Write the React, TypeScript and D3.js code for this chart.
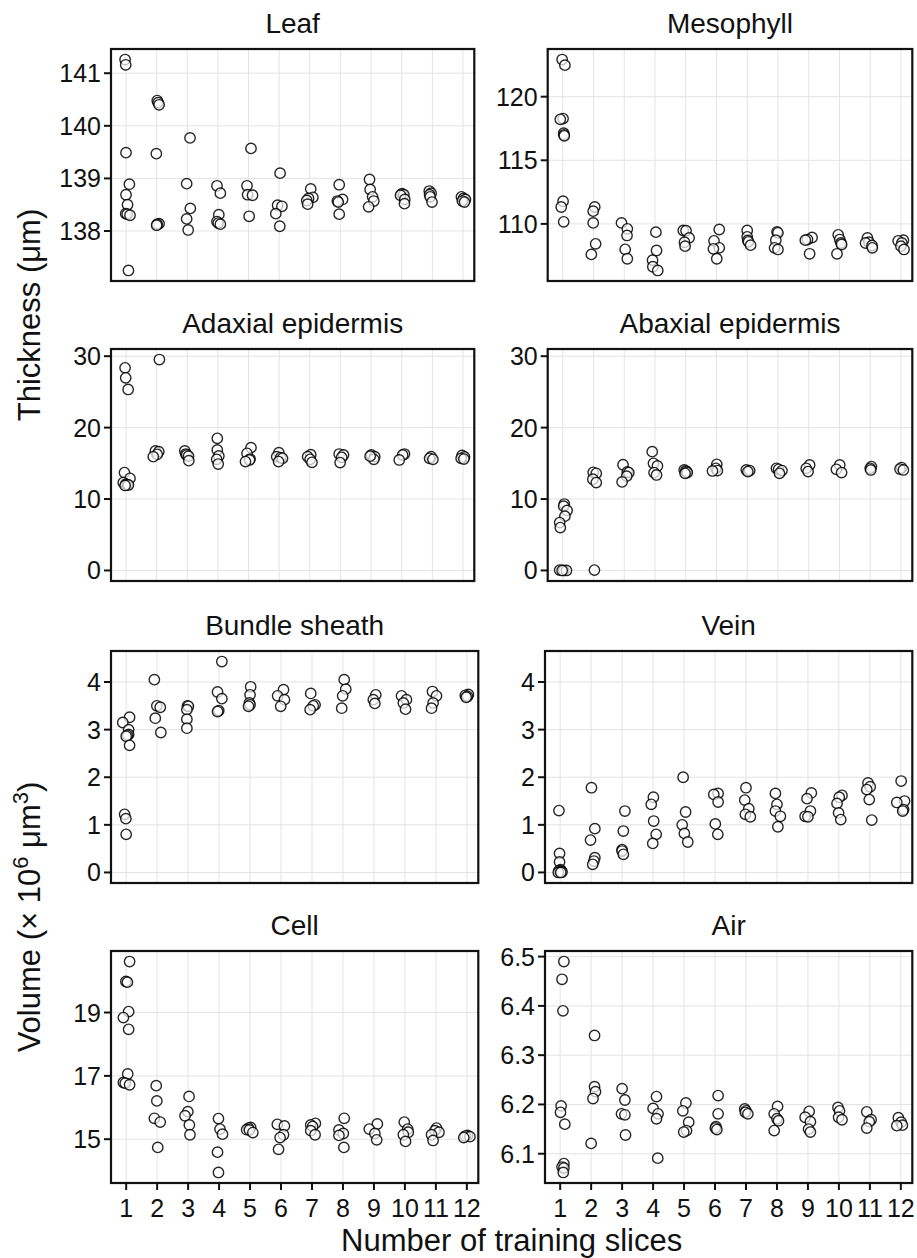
import React from "react";
import * as d3 from "d3";

// ---------- data: per column (training slices 1..12), [value, x-jitter] ----------
const sliceCounts = [1, 2, 3, 4, 5, 6, 7, 8, 9, 10, 11, 12];

const leafThickness = [
  [[141.26,-0.03],[141.16,-0.01],[139.49,0],[138.89,0.11],[138.69,0],[138.5,0.05],[138.33,-0.01],[138.32,0.04],[138.3,0.13],[137.25,0.08]],
  [[140.48,0.02],[140.44,0.05],[140.4,0.08],[139.47,-0.01],[138.14,0.08],[138.13,0.02],[138.11,0]],
  [[139.77,0.09],[138.9,-0.02],[138.43,0.1],[138.23,-0.02],[138.02,0.03]],
  [[138.86,-0.03],[138.72,0.08],[138.31,0.03],[138.18,-0.03],[138.15,0.01],[138.13,0.08]],
  [[139.57,0.08],[138.86,-0.05],[138.69,-0.03],[138.68,0.13],[138.28,0.02]],
  [[139.1,0.03],[138.49,-0.05],[138.47,0.09],[138.33,-0.11],[138.09,0.02]],
  [[138.8,0.03],[138.64,0.1],[138.62,-0.04],[138.58,-0.1],[138.51,-0.07]],
  [[138.88,-0.04],[138.6,0.07],[138.57,-0.1],[138.55,-0.07],[138.32,-0.04]],
  [[138.98,-0.05],[138.79,-0.03],[138.65,0.05],[138.57,0.09],[138.46,-0.08]],
  [[138.71,0.01],[138.69,0.07],[138.68,-0.04],[138.6,0.1],[138.52,0.09]],
  [[138.76,-0.1],[138.72,-0.04],[138.69,-0.09],[138.65,-0.07],[138.55,-0.01]],
  [[138.65,-0.05],[138.62,0.02],[138.6,0.08],[138.57,-0.02],[138.55,0.05]],
];

const mesophyllThickness = [
  [[122.92,-0.02],[122.48,0.07],[118.28,0.01],[118.22,-0.08],[117.13,0.03],[117.0,0.04],[116.92,0.05],[111.78,0.01],[111.33,-0.05],[110.16,0.03]],
  [[111.33,0.04],[111.0,-0.01],[110.08,-0.01],[108.43,0.07],[107.6,-0.07]],
  [[110.08,-0.09],[109.61,0.1],[109.09,0.09],[108.0,0.03],[107.26,0.1]],
  [[109.35,0.03],[107.91,0.05],[107.15,-0.08],[106.63,-0.07],[106.34,0.09]],
  [[109.48,-0.08],[109.46,0.01],[108.9,0.11],[108.56,-0.04],[108.25,-0.02]],
  [[109.56,0.09],[108.67,-0.08],[108.12,0.09],[108.04,-0.1],[107.26,0.01]],
  [[109.48,0],[108.98,0],[108.7,0.02],[108.59,0.04],[108.33,0.11]],
  [[109.37,-0.03],[109.3,0],[108.72,-0.07],[108.12,-0.11],[107.99,0]],
  [[108.93,0.11],[108.77,-0.04],[108.72,-0.11],[107.65,0.03]],
  [[109.14,-0.04],[108.77,0.01],[108.5,0.05],[108.38,0.07],[107.65,-0.08]],
  [[108.9,-0.09],[108.56,-0.04],[108.5,-0.15],[108.3,0.06],[108.12,0.07]],
  [[108.72,0.08],[108.67,-0.09],[108.5,0.03],[108.25,0],[107.99,0.1]],
];

const adaxialThickness = [
  [[28.37,-0.03],[26.97,-0.01],[25.34,0.07],[13.7,-0.05],[12.9,0.13],[12.3,-0.09],[12.1,0],[12.0,0.04],[11.97,0.08],[11.9,-0.03]],
  [[29.53,0.09],[16.73,-0.04],[16.63,0.07],[16.26,0.02],[15.93,-0.11]],
  [[16.73,-0.08],[16.3,-0.05],[16.17,-0.02],[16.0,0.04],[15.37,0.05]],
  [[18.5,-0.02],[16.87,-0.02],[16.03,0.03],[15.56,-0.04],[14.9,0.01]],
  [[17.19,0.08],[16.4,-0.05],[15.6,0.05],[15.47,0.03],[15.24,-0.1]],
  [[16.49,-0.01],[15.93,-0.08],[15.8,0.05],[15.7,0.11],[15.24,-0.02]],
  [[16.21,0.03],[15.93,-0.07],[15.56,0.01],[15.14,0.07]],
  [[16.3,-0.04],[16.17,0.1],[15.84,0.04],[15.1,-0.01]],
  [[16.17,0.01],[15.93,0.12],[15.56,0.09],[16.0,-0.03]],
  [[16.3,0.09],[16.17,0.03],[15.47,-0.08]],
  [[15.93,-0.04],[15.7,-0.09],[15.56,0.02]],
  [[16.1,-0.03],[15.9,0.05],[15.7,-0.06],[15.6,0.03]],
];

const abaxialThickness = [
  [[9.3,0.05],[9.0,0.03],[8.4,0.14],[7.6,0.07],[6.7,-0.1],[6.0,-0.08],[0.05,-0.1],[0,0.03],[0,0.12],[0,-0.02]],
  [[13.74,-0.01],[13.6,0.09],[12.77,-0.02],[12.3,0.09],[0.05,0.03]],
  [[14.8,-0.04],[13.8,0.1],[13.7,0.15],[13.2,0.08],[12.4,-0.07]],
  [[16.63,-0.09],[15.0,-0.05],[14.63,0.08],[13.7,-0.03],[13.37,0.05]],
  [[14.07,-0.05],[13.95,0],[13.84,0.03],[13.7,0.05],[13.6,-0.02]],
  [[14.86,0.01],[14.3,-0.02],[13.98,0.03],[13.93,-0.13]],
  [[14.07,-0.03],[13.98,0.08],[13.84,0.02]],
  [[14.3,-0.05],[14.16,0.02],[13.98,0.13],[13.6,0.05]],
  [[14.77,0.03],[14.3,-0.08],[13.84,-0.02]],
  [[14.77,0.01],[14.16,-0.1],[13.7,0.07]],
  [[14.54,0.04],[14.3,0],[14.07,0.02]],
  [[14.4,0.02],[14.2,-0.03],[14.07,0.08]],
];

const bundleSheathVolume = [
  [[3.26,0.11],[3.15,-0.11],[3.0,0.08],[2.9,0.08],[2.88,0.04],[2.86,0],[2.67,0.11],[1.22,-0.05],[1.13,-0.01],[0.8,0]],
  [[4.05,-0.09],[3.5,-0.01],[3.47,0.1],[3.24,-0.06],[2.94,0.12]],
  [[3.5,-0.02],[3.49,0.01],[3.42,-0.04],[3.22,-0.04],[3.03,-0.04]],
  [[4.43,0.09],[3.79,-0.05],[3.65,0.09],[3.4,-0.01],[3.38,-0.05]],
  [[3.9,0.02],[3.73,0],[3.56,-0.02],[3.52,0],[3.49,-0.05]],
  [[3.84,0.08],[3.71,-0.11],[3.63,0.11],[3.49,-0.01]],
  [[3.76,-0.04],[3.52,0.1],[3.5,0.04],[3.42,-0.06]],
  [[4.05,0.04],[3.85,0.09],[3.71,-0.01],[3.45,-0.04]],
  [[3.73,0.06],[3.63,-0.02],[3.55,0.03]],
  [[3.71,-0.11],[3.63,0.05],[3.56,-0.05],[3.43,0.02]],
  [[3.8,-0.11],[3.71,0.02],[3.56,-0.09],[3.45,-0.14]],
  [[3.74,0.05],[3.72,-0.05],[3.7,0.02],[3.68,-0.02]],
];

const veinVolume = [
  [[1.3,-0.04],[0.4,-0.02],[0.22,-0.02],[0.06,0.01],[0.04,-0.04],[0.03,0.04],[0.02,0],[0.01,0.06],[0.0,-0.06],[0.0,0.02]],
  [[1.78,0.01],[0.92,0.12],[0.68,-0.02],[0.31,0.12],[0.24,0.09],[0.17,0.05]],
  [[1.29,0.09],[0.87,0.04],[0.48,0],[0.45,0],[0.38,0.04]],
  [[1.58,0.01],[1.43,-0.06],[1.08,0.02],[0.8,0.1],[0.61,-0.01]],
  [[2.0,-0.03],[1.27,0.05],[1.0,-0.06],[0.82,0.01],[0.64,0.12]],
  [[1.66,0.1],[1.64,-0.04],[1.48,0.1],[1.02,0.01],[0.8,0.09]],
  [[1.78,0],[1.52,-0.04],[1.34,0.09],[1.22,-0.02],[1.17,0.14]],
  [[1.66,-0.05],[1.43,0],[1.29,-0.05],[1.18,0.11],[0.96,0.03]],
  [[1.67,0.11],[1.55,-0.03],[1.29,0.08],[1.18,-0.09],[1.17,0]],
  [[1.62,0.1],[1.58,0.01],[1.45,-0.06],[1.25,-0.01],[1.11,0.06]],
  [[1.88,-0.06],[1.8,0.01],[1.74,-0.1],[1.53,-0.02],[1.1,0.06]],
  [[1.92,0.01],[1.5,0.12],[1.47,-0.13],[1.32,0.09],[1.29,0.06]],
];

const cellVolume = [
  [[20.61,0.11],[19.98,-0.01],[19.96,0.04],[19.03,0.08],[18.84,-0.09],[18.47,0.08],[17.06,0.05],[16.79,-0.09],[16.77,-0.03],[16.72,0.11]],
  [[16.69,-0.03],[16.21,-0.01],[15.66,-0.09],[15.54,0.1],[14.74,0.02]],
  [[16.35,0.03],[15.87,-0.01],[15.74,-0.1],[15.45,0.04],[15.14,0.06]],
  [[15.65,-0.02],[15.32,0.03],[15.16,0.11],[14.59,-0.05],[13.95,-0.02]],
  [[15.37,0.02],[15.35,-0.05],[15.3,-0.11],[15.29,-0.02],[15.21,0.09]],
  [[15.47,-0.12],[15.42,0.11],[15.14,0.08],[15.05,-0.03],[14.68,-0.08]],
  [[15.5,0.11],[15.45,-0.04],[15.4,0.02],[15.27,-0.04],[15.14,0.1]],
  [[15.66,0.04],[15.29,-0.13],[15.18,0.01],[15.12,-0.13],[14.74,0.03]],
  [[15.48,0.11],[15.32,-0.15],[15.18,0.03],[14.98,0.09]],
  [[15.54,-0.02],[15.32,0.09],[15.22,0.11],[15.14,-0.05],[14.93,0.02]],
  [[15.35,0.02],[15.27,-0.03],[15.22,0.1],[15.14,-0.14],[14.96,-0.09]],
  [[15.12,0.02],[15.1,-0.05],[15.08,0.1],[15.05,-0.1]],
];

const airVolume = [
  [[6.49,0.12],[6.454,0.06],[6.39,0.09],[6.197,0.03],[6.184,0.01],[6.16,0.15],[6.08,0.12],[6.073,0.06],[6.071,0.12],[6.062,0.1]],
  [[6.34,0.11],[6.236,0.11],[6.226,0.14],[6.212,0.06],[6.121,0]],
  [[6.232,0],[6.209,0.09],[6.181,-0.02],[6.179,0.09],[6.138,0.11]],
  [[6.216,0.11],[6.192,0],[6.181,0.16],[6.171,0.11],[6.091,0.15]],
  [[6.203,0.06],[6.187,-0.04],[6.164,0.15],[6.147,0.08],[6.144,-0.01]],
  [[6.218,0.1],[6.181,0.1],[6.155,0.03],[6.152,0.01],[6.149,0.06]],
  [[6.191,-0.04],[6.187,0],[6.184,-0.02],[6.181,0.06]],
  [[6.196,0.02],[6.181,-0.09],[6.171,0],[6.167,0.05],[6.147,-0.09]],
  [[6.186,0.04],[6.174,-0.09],[6.165,0.08],[6.15,0.02],[6.144,0.08]],
  [[6.194,-0.03],[6.187,0.02],[6.174,-0.01],[6.169,0.1]],
  [[6.185,-0.1],[6.169,0.04],[6.165,-0.02],[6.152,-0.1]],
  [[6.173,-0.08],[6.164,0.01],[6.158,0.05],[6.157,-0.13]],
];

const leafTicks = [138, 139, 140, 141];
const mesophyllTicks = [110, 115, 120];
const epidermisTicks = [0, 10, 20, 30];
const volumeTicks = [0, 1, 2, 3, 4];
const cellTicks = [15, 17, 19];
const airTicks = [6.1, 6.2, 6.3, 6.4, 6.5];

// ---------- layout ----------
const W = 917;
const H = 1258;
const FONT = "'Liberation Sans', Arial, Helvetica, sans-serif";
const TXT = "#111";
const TICK_FS = 25;

const COLS_TOP = [[111, 474.3], [547.7, 912.3]];
const COLS_BOT = [[111, 478.3], [545, 912.3]];
const ROWS = [[49, 281], [349, 581], [651, 883], [951, 1183]];

type Col = number[][];
interface PanelSpec {
  title: string;
  data: Col[];
  ticks: number[];
  group: string;
  row: number;
  col: number;
}

const panels: PanelSpec[] = [
  { title: "Leaf", data: leafThickness, ticks: leafTicks, group: "leaf", row: 0, col: 0 },
  { title: "Mesophyll", data: mesophyllThickness, ticks: mesophyllTicks, group: "meso", row: 0, col: 1 },
  { title: "Adaxial epidermis", data: adaxialThickness, ticks: epidermisTicks, group: "epi", row: 1, col: 0 },
  { title: "Abaxial epidermis", data: abaxialThickness, ticks: epidermisTicks, group: "epi", row: 1, col: 1 },
  { title: "Bundle sheath", data: bundleSheathVolume, ticks: volumeTicks, group: "bv", row: 2, col: 0 },
  { title: "Vein", data: veinVolume, ticks: volumeTicks, group: "bv", row: 2, col: 1 },
  { title: "Cell", data: cellVolume, ticks: cellTicks, group: "cell", row: 3, col: 0 },
  { title: "Air", data: airVolume, ticks: airTicks, group: "air", row: 3, col: 1 },
];

function groupDomain(group: string): [number, number] {
  const vals: number[] = [];
  panels.filter((p) => p.group === group).forEach((p) => p.data.forEach((c) => c.forEach((pt) => vals.push(pt[0]))));
  const [mn, mx] = d3.extent(vals) as [number, number];
  const pad = (mx - mn) * 0.05;
  return [mn - pad, mx + pad];
}

function Panel({ spec }: { spec: PanelSpec }) {
  const cols = spec.row < 2 ? COLS_TOP : COLS_BOT;
  const [x0, x1] = cols[spec.col];
  const [y0, y1] = ROWS[spec.row];
  const x = d3.scaleLinear().domain([0.51, 12.37]).range([x0, x1]);
  const y = d3.scaleLinear().domain(groupDomain(spec.group)).range([y1, y0]);
  const showX = spec.row === 3;
  const pts: { cx: number; cy: number }[] = [];
  spec.data.forEach((c, i) =>
    c.forEach((pt) => pts.push({ cx: x(sliceCounts[i] + pt[1]), cy: y(pt[0]) }))
  );
  return (
    <g>
      <text x={(x0 + x1) / 2} y={y0 - 16} textAnchor="middle" fontSize={28} fill={TXT}>
        {spec.title}
      </text>
      <rect x={x0} y={y0} width={x1 - x0} height={y1 - y0} fill="#fff" />
      {sliceCounts.map((s) => (
        <line key={"gx" + s} x1={x(s)} x2={x(s)} y1={y0} y2={y1} stroke="#e3e3e3" strokeWidth={1} />
      ))}
      {spec.ticks.map((t) => (
        <line key={"gy" + t} x1={x0} x2={x1} y1={y(t)} y2={y(t)} stroke="#e3e3e3" strokeWidth={1} />
      ))}
      {pts.map((p, i) => (
        <circle
          key={i}
          cx={p.cx}
          cy={p.cy}
          r={5.2}
          fill="#fff"
          fillOpacity={0.7}
          stroke="#000"
          strokeOpacity={0.85}
          strokeWidth={1.4}
        />
      ))}
      <rect x={x0} y={y0} width={x1 - x0} height={y1 - y0} fill="none" stroke="#111" strokeWidth={2.2} />
      {spec.ticks.map((t) => (
        <g key={"ty" + t}>
          <line x1={x0 - 7} x2={x0} y1={y(t)} y2={y(t)} stroke="#111" strokeWidth={2} />
          <text x={x0 - 10} y={y(t)} dy="0.36em" textAnchor="end" fontSize={TICK_FS} fill={TXT}>
            {String(t)}
          </text>
        </g>
      ))}
      {showX &&
        sliceCounts.map((s) => (
          <g key={"tx" + s}>
            <line x1={x(s)} x2={x(s)} y1={y1} y2={y1 + 7} stroke="#111" strokeWidth={2} />
            <text x={x(s)} y={y1 + 34} textAnchor="middle" fontSize={TICK_FS} fill={TXT}>
              {String(s)}
            </text>
          </g>
        ))}
    </g>
  );
}

export default function App() {
  const thickMid = (ROWS[0][0] + ROWS[1][1]) / 2;
  const volMid = (ROWS[2][0] + ROWS[3][1]) / 2;
  return (
    <svg
      width={W}
      height={H}
      viewBox={`0 0 ${W} ${H}`}
      style={{ position: "absolute", left: 0, top: 0, display: "block" }}
      fontFamily={FONT}
    >
      <rect width={W} height={H} fill="#fff" />
      {panels.map((p) => (
        <Panel key={p.title} spec={p} />
      ))}
      <text
        transform={`translate(40,${thickMid}) rotate(-90)`}
        textAnchor="middle"
        fontSize={31}
        fill={TXT}
      >
        Thickness (μm)
      </text>
      <text
        transform={`translate(40,${volMid}) rotate(-90)`}
        textAnchor="middle"
        fontSize={31}
        fill={TXT}
      >
        <tspan>Volume (× 10</tspan>
        <tspan fontSize={22} dy={-12}>6</tspan>
        <tspan dy={12}> μm</tspan>
        <tspan fontSize={22} dy={-12}>3</tspan>
        <tspan dy={12}>)</tspan>
      </text>
      <text x={(COLS_BOT[0][0] + COLS_BOT[1][1]) / 2} y={1251} textAnchor="middle" fontSize={31} fill={TXT}>
        Number of training slices
      </text>
    </svg>
  );
}
